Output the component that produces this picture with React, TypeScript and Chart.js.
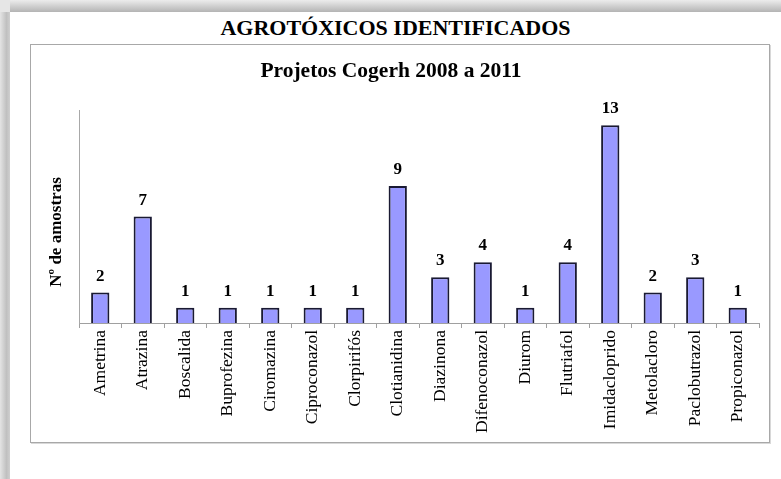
import React, { useEffect, useRef } from "react";
import { Chart, registerables } from "chart.js";

Chart.register(...registerables);

const pageTitle = "AGROTÓXICOS IDENTIFICADOS";
const chartTitle = "Projetos Cogerh 2008 a 2011";
const yAxisTitle = "Nº de amostras";

const categories = [
  "Ametrina",
  "Atrazina",
  "Boscalida",
  "Buprofezina",
  "Ciromazina",
  "Ciproconazol",
  "Clorpirifós",
  "Clotianidina",
  "Diazinona",
  "Difenoconazol",
  "Diurom",
  "Flutriafol",
  "Imidacloprido",
  "Metolacloro",
  "Paclobutrazol",
  "Propiconazol",
];

const amostras = [2, 7, 1, 1, 1, 1, 1, 9, 3, 4, 1, 4, 13, 2, 3, 1];

const yMin = 0;
const yMax = 14;

const SERIF = "'Liberation Serif', 'Times New Roman', serif";

const textPlugin = {
  id: "customTexts",
  afterDatasetsDraw(chart: any) {
    const ctx = chart.ctx;
    const meta = chart.getDatasetMeta(0);
    ctx.save();
    ctx.fillStyle = "#000";
    ctx.font = `bold 17px ${SERIF}`;
    ctx.textAlign = "center";
    ctx.textBaseline = "alphabetic";
    meta.data.forEach((bar: any, i: number) => {
      ctx.fillText(String(amostras[i]), bar.x, bar.y - 12);
    });
    // chart subtitle
    ctx.font = `bold 21.5px ${SERIF}`;
    ctx.fillText(chartTitle, 391, 77);
    // y axis title
    ctx.translate(61, 232);
    ctx.rotate(-Math.PI / 2);
    ctx.font = `bold 17px ${SERIF}`;
    ctx.fillText(yAxisTitle, 0, 0);
    ctx.restore();
  },
};

export default function App() {
  const canvasRef = useRef<HTMLCanvasElement | null>(null);

  useEffect(() => {
    if (!canvasRef.current) return;
    const chart = new Chart(canvasRef.current, {
      type: "bar",
      data: {
        labels: categories,
        datasets: [
          {
            label: yAxisTitle,
            data: amostras,
            backgroundColor: "#9999FF",
            borderColor: "#1a1a33",
            borderWidth: 2,
            barPercentage: 0.43,
            categoryPercentage: 1,
          },
        ],
      },
      options: {
        animation: false,
        responsive: false,
        maintainAspectRatio: false,
        layout: { padding: { left: 79, right: 22, top: 110, bottom: 0 } },
        plugins: {
          legend: { display: false },
          title: { display: false },
          tooltip: { enabled: false },
        },
        scales: {
          x: {
            offset: true,
            afterFit(scale: any) {
              scale.height = 156;
            },
            grid: {
              offset: true,
              drawOnChartArea: false,
              drawTicks: true,
              tickLength: 5,
              color: "#a0a0a0",
            },
            border: { display: true, color: "#a0a0a0", width: 1 },
            ticks: {
              minRotation: 90,
              maxRotation: 90,
              autoSkip: false,
              padding: 2,
              color: "#000",
              font: { family: SERIF, size: 17.5 },
            },
          },
          y: {
            min: yMin,
            max: yMax,
            afterFit(scale: any) {
              scale.width = 0;
            },
            grid: { display: false },
            border: { display: true, color: "#a8a8a8", width: 1 },
            ticks: { display: false },
          },
        },
      },
      plugins: [textPlugin],
    });
    return () => chart.destroy();
  }, []);

  return (
    <div
      style={{
        position: "absolute",
        left: 0,
        top: 0,
        width: 781,
        height: 479,
        background: "#fff",
        overflow: "hidden",
      }}
    >
      <div
        style={{
          position: "absolute",
          left: 0,
          top: 0,
          width: 781,
          height: 12,
          background: "linear-gradient(to bottom, #ececec, #b4b4b4)",
        }}
      />
      <div
        style={{
          position: "absolute",
          left: 0,
          top: 0,
          width: 10,
          height: 479,
          background: "linear-gradient(to right, #e4e4e4, #c0c0c0 65%, #cfcfcf)",
        }}
      />
      <div
        style={{
          position: "absolute",
          left: 0,
          top: 0,
          width: 10,
          height: 12,
          background: "#e6e6e6",
        }}
      />
      <div
        style={{
          position: "absolute",
          left: 0,
          top: 15,
          width: 781,
          textAlign: "center",
          paddingLeft: 10,
          boxSizing: "border-box",
          fontFamily: SERIF,
          fontWeight: "bold",
          fontSize: 22,
          lineHeight: "26px",
          color: "#000",
        }}
      >
        {pageTitle}
      </div>
      <div
        style={{
          position: "absolute",
          left: 30,
          top: 44,
          width: 738,
          height: 397,
          border: "1px solid #a8a8a8",
          boxShadow: "1px 1px 0 #d8d8d8",
        }}
      />
      <canvas
        ref={canvasRef}
        width={781}
        height={479}
        style={{ position: "absolute", left: 0, top: 0, width: 781, height: 479 }}
      />
    </div>
  );
}
